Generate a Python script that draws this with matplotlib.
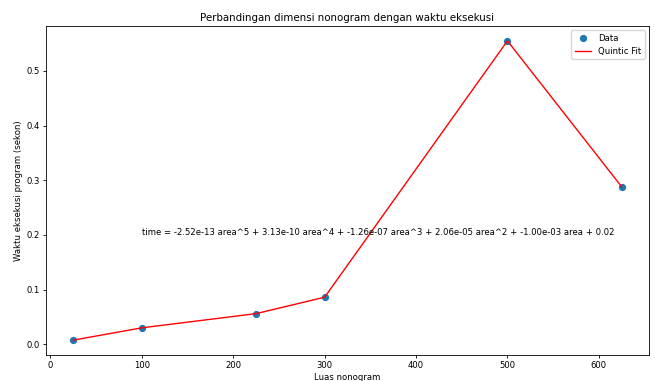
import numpy as np
import matplotlib.pyplot as plt

# data nonogram: luas vs waktu eksekusi
area = [25, 100, 225, 300, 500, 625]
time = [0.0075, 0.030, 0.056, 0.086, 0.555, 0.288]
fit_label = ("time = -2.52e-13 area^5 + 3.13e-10 area^4 + -1.26e-07 area^3 + "
             "2.06e-05 area^2 + -1.00e-03 area + 0.02")

coef = np.polyfit(area, time, 5)
fit = np.polyval(coef, area)

plt.rcParams['font.size'] = 6.1
plt.rcParams['axes.linewidth'] = 0.6
fig = plt.figure(figsize=(6.55, 3.81), dpi=100)
ax = fig.add_subplot(111)
ax.plot(area, time, 'o', color='#1f77b4', markersize=4.2, label='Data')
ax.plot(area, fit, color='red', linewidth=1.0, label='Quintic Fit')
ax.text(100, 0.2, fit_label, fontsize=6.1)
ax.set_title('Perbandingan dimensi nonogram dengan waktu eksekusi', fontsize=7.4, pad=3.6)
ax.set_xlabel('Luas nonogram', labelpad=2.4)
ax.set_ylabel('Waktu eksekusi program (sekon)', labelpad=2.4)
ax.tick_params(length=2.1, pad=2.1, width=0.6)
ax.legend(loc='upper right')
fig.subplots_adjust(left=0.070, right=0.991, top=0.932, bottom=0.068)
fig.savefig('out.png')
